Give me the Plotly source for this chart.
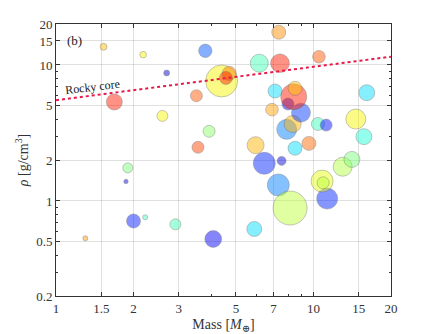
import numpy as np
import plotly.graph_objects as go

# planet sample: mass [M_earth], bulk density [g/cm^3], bubble size, colour value (0-1, jet)
mass = [1.53, 2.18, 3.80, 2.69, 4.40, 4.71, 4.57, 3.51, 1.685, 2.59,
        3.93, 3.56, 1.90, 1.87, 2.00, 2.22, 2.91, 1.30, 4.08, 5.89,
        6.44, 7.52, 7.30, 5.96, 8.11, 11.3, 10.8, 10.9, 12.98, 14.1,
        10.4, 11.2, 14.6, 15.7, 8.48, 9.60, 7.87, 8.30, 8.94, 6.90,
        7.96, 8.38, 8.48, 7.09, 6.16, 7.41, 7.33, 10.5, 16.1]
density = [13.6, 11.9, 12.7, 8.73, 7.62, 8.67, 8.02, 5.94, 5.34, 4.22,
           3.25, 2.48, 1.75, 1.39, 0.712, 0.758, 0.673, 0.531, 0.525, 0.622,
           1.89, 1.97, 1.31, 2.57, 0.887, 1.04, 1.40, 1.36, 1.785, 2.02,
           3.68, 3.61, 4.00, 2.97, 2.44, 2.65, 3.36, 3.68, 4.46, 4.69,
           5.16, 5.84, 6.73, 6.43, 10.3, 10.3, 17.4, 11.5, 6.25]
bubble = [1.75, 1.65, 3.35, 1.5, 8.0, 3.5, 3.25, 3.0, 4.0, 2.75,
          3.0, 3.0, 2.5, 1.1, 3.5, 1.25, 2.75, 1.25, 4.2, 3.75,
          5.5, 2.25, 5.5, 4.25, 8.5, 5.25, 5.5, 3.0, 4.75, 4.0,
          3.25, 3.0, 5.0, 4.0, 3.5, 3.5, 5.0, 4.25, 4.75, 3.15,
          3.0, 6.5, 3.5, 3.5, 4.5, 4.65, 3.5, 3.15, 4.0]
cval = [0.71, 0.65, 0.21, 0.07, 0.65, 0.78, 0.88, 0.82, 0.88, 0.65,
        0.52, 0.84, 0.50, 0.08, 0.15, 0.43, 0.43, 0.75, 0.10, 0.34,
        0.16, 0.08, 0.25, 0.72, 0.58, 0.16, 0.63, 0.58, 0.57, 0.50,
        0.42, 0.14, 0.65, 0.39, 0.34, 0.80, 0.25, 0.72, 0.18, 0.74,
        0.10, 0.88, 0.70, 0.34, 0.43, 0.88, 0.76, 0.82, 0.34]

rocky_mass = [1, 20]
rocky_rho = [5.5, 11.5]

xticks = [1, 1.5, 2, 3, 5, 7, 10, 15, 20]
yticks = [0.2, 0.5, 1, 2, 5, 10, 15, 20]


def jet(t):
    r = np.interp(t, [0, 0.35, 0.66, 0.89, 1], [0, 0, 1, 1, 0.5])
    g = np.interp(t, [0, 0.125, 0.375, 0.64, 0.91, 1], [0, 0, 1, 1, 0, 0])
    b = np.interp(t, [0, 0.11, 0.34, 0.65, 1], [0.5, 1, 1, 0, 0])
    return f"rgba({int(r*255)},{int(g*255)},{int(b*255)},0.68)"


fig = go.Figure()

fig.add_trace(go.Scatter(
    x=mass, y=density, mode='markers',
    marker=dict(size=bubble, sizemode='diameter', sizeref=0.25,
                color=[jet(c) for c in cval],
                line=dict(color='rgba(90,90,90,0.6)', width=0.8)),
    showlegend=False))

fig.add_trace(go.Scatter(
    x=rocky_mass, y=rocky_rho, mode='lines',
    line=dict(color='#e8184a', width=2, dash='dot'),
    showlegend=False))

serif = "Liberation Serif, DejaVu Serif, serif"

fig.add_annotation(x=np.log10(1.38), y=np.log10(6.9), text="Rocky core",
                   showarrow=False, textangle=-7,
                   font=dict(family=serif, size=12, color='#222'))
fig.add_annotation(x=np.log10(1.18), y=np.log10(15.0), text="(b)",
                   showarrow=False, font=dict(family=serif, size=13, color='#222'))

minor_x = [4, 6, 8, 9]
minor_y = [0.3, 0.4, 0.6, 0.7, 0.8, 0.9, 3, 4, 6, 7, 8, 9]

axis_common = dict(showline=True, linecolor='#333', linewidth=1, mirror='ticks',
                   ticks='inside', ticklen=4, tickcolor='#333', automargin=False,
                   showgrid=True, gridcolor='rgba(0,0,0,0.12)', gridwidth=1,
                   zeroline=False, tickfont=dict(family=serif, size=13, color='#333'))

fig.update_xaxes(type='log', range=[0, np.log10(20)],
                 tickmode='array', tickvals=xticks, ticktext=[str(v) for v in xticks],
                 minor=dict(tickmode='array', tickvals=minor_x, ticks='inside',
                            ticklen=2, tickcolor='#333', showgrid=False),
                 title=dict(text="Mass [<i>M</i><sub>⊕</sub>]", standoff=4,
                            font=dict(family=serif, size=14, color='#333')),
                 **axis_common)
fig.update_yaxes(type='log', range=[np.log10(0.2), np.log10(20)],
                 tickmode='array', tickvals=yticks, ticktext=[str(v) for v in yticks],
                 minor=dict(tickmode='array', tickvals=minor_y, ticks='inside',
                            ticklen=2, tickcolor='#333', showgrid=False),
                 title=dict(text="<i>ρ</i> [g/cm<sup>3</sup>]", standoff=4,
                            font=dict(family=serif, size=14, color='#333')),
                 **axis_common)

fig.update_layout(width=432, height=334, margin=dict(l=56, r=41, t=24, b=38),
                  plot_bgcolor='white', paper_bgcolor='white')

fig.write_html("out.html", config={'displayModeBar': False},
               post_script="document.body.style.margin='0';")
